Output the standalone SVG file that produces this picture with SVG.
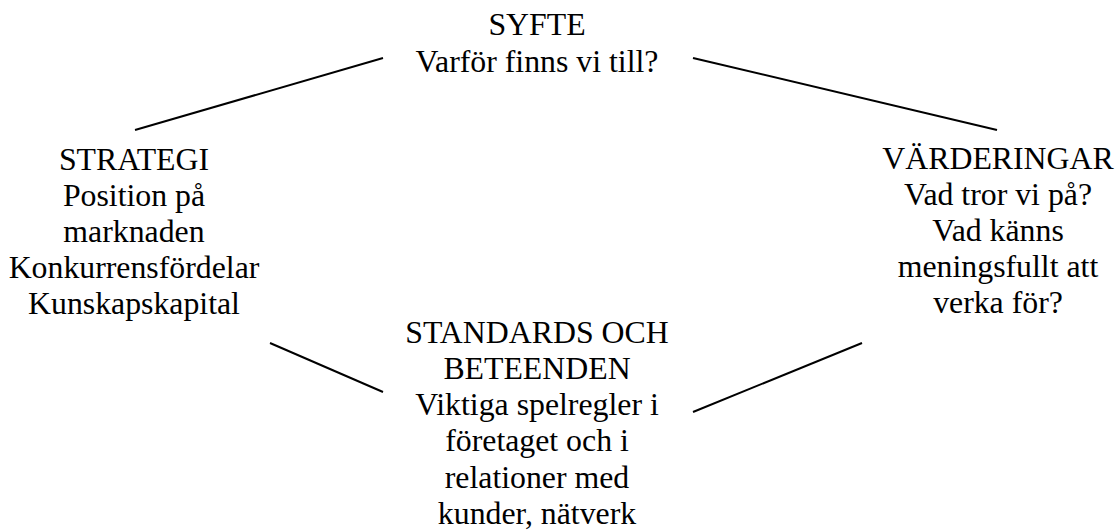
<svg xmlns="http://www.w3.org/2000/svg" width="1117" height="531" viewBox="0 0 1117 531">
<style>
text{font-family:"Liberation Serif","Times New Roman",serif;font-size:31.8px;fill:#000;text-anchor:middle}
.c{stroke:#000;stroke-width:2;fill:none}
</style>
<rect width="1117" height="531" fill="#fff"/>
<g id="connectors">
<line class="c" x1="135" y1="130" x2="383" y2="58"/>
<line class="c" x1="693" y1="58" x2="997" y2="130"/>
<line class="c" x1="270" y1="343" x2="383" y2="392"/>
<line class="c" x1="693" y1="412" x2="862" y2="343"/>
</g>
<g id="syfte">
<text x="537" y="35">SYFTE</text>
<text x="537" y="72">Varför finns vi till?</text>
</g>
<g id="strategi">
<text x="134" y="170">STRATEGI</text>
<text x="134" y="206">Position på</text>
<text x="134" y="242">marknaden</text>
<text x="134" y="278">Konkurrensfördelar</text>
<text x="134" y="314">Kunskapskapital</text>
</g>
<g id="varderingar">
<text x="998" y="169">VÄRDERINGAR</text>
<text x="998" y="205">Vad tror vi på?</text>
<text x="998" y="241">Vad känns</text>
<text x="998" y="277">meningsfullt att</text>
<text x="998" y="313">verka för?</text>
</g>
<g id="standards">
<text x="537" y="343">STANDARDS OCH</text>
<text x="537" y="379">BETEENDEN</text>
<text x="537" y="415">Viktiga spelregler i</text>
<text x="537" y="451">företaget och i</text>
<text x="537" y="488">relationer med</text>
<text x="537" y="524">kunder, nätverk</text>
</g>
</svg>
